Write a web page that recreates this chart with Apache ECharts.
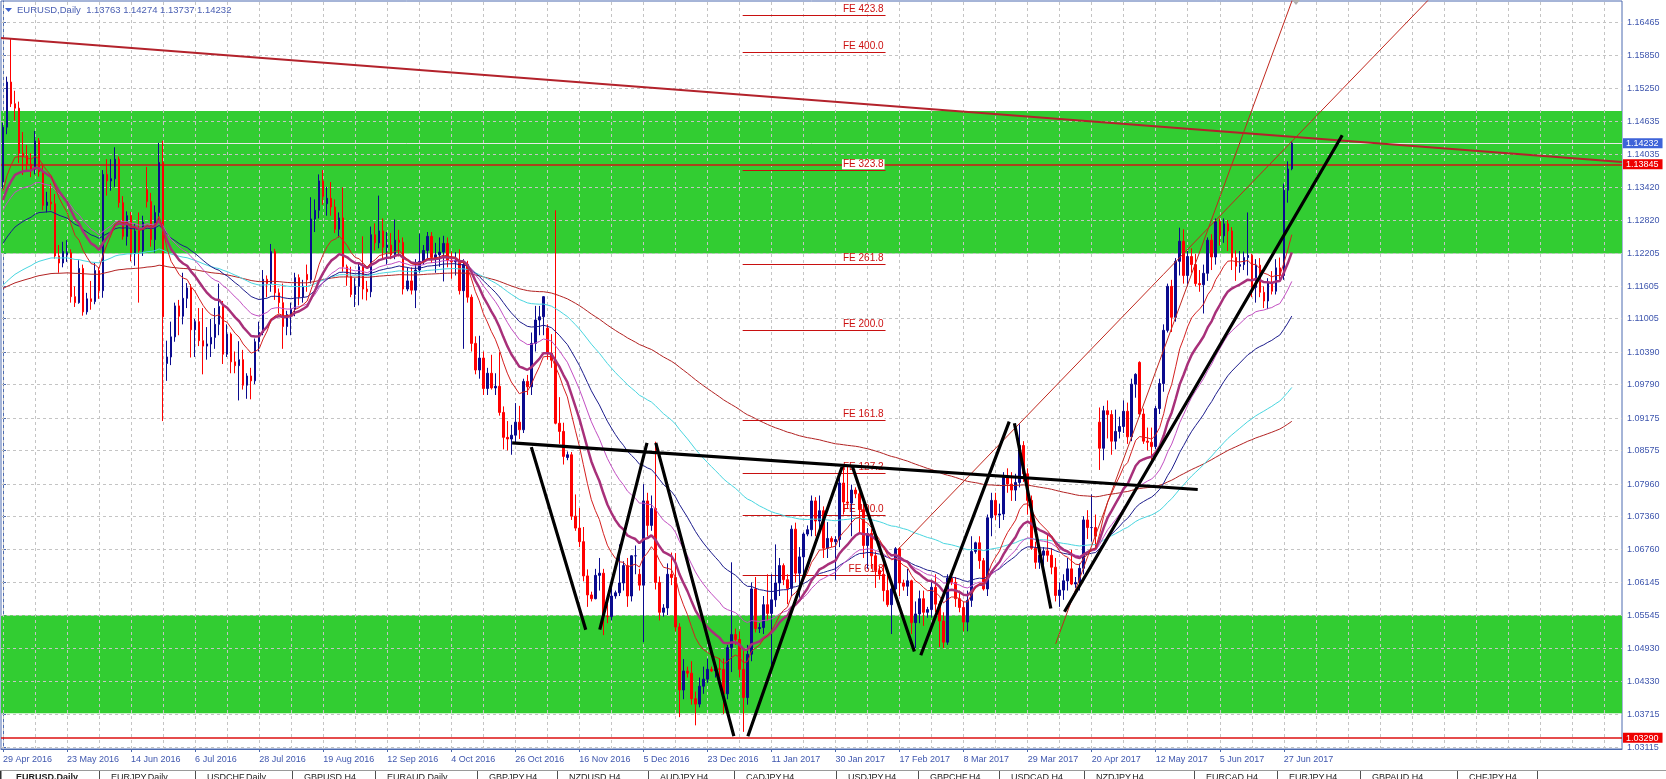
<!DOCTYPE html>
<html><head><meta charset="utf-8">
<script src="https://cdn.jsdelivr.net/npm/echarts@6/dist/echarts.min.js"></script>
<style>html,body{margin:0;padding:0;background:#fff;}#c{width:1666px;height:779px;}</style>
</head><body><div id="c"></div>
<script>
// ---------------- DATA ----------------
const SLOTS = 405; // bar slots on the time axis (323 bars + empty shift area)
const dateLabels = ['29 Apr 2016','23 May 2016','14 Jun 2016','6 Jul 2016','28 Jul 2016','19 Aug 2016','12 Sep 2016','4 Oct 2016','26 Oct 2016','16 Nov 2016','5 Dec 2016','23 Dec 2016','11 Jan 2017','30 Jan 2017','17 Feb 2017','8 Mar 2017','29 Mar 2017','20 Apr 2017','12 May 2017','5 Jun 2017','27 Jun 2017'];
const labelEvery = 16;
const yTicks = [1.16465,1.15850,1.15250,1.14635,1.14035,1.13420,1.12820,1.12205,1.11605,1.11005,1.10390,1.09790,1.09175,1.08575,1.07960,1.07360,1.06760,1.06145,1.05545,1.04930,1.04330,1.03715,1.03115];
const yMin = 1.03084, yMax = 1.16852;
// daily bars: [open, high, low, close]
const bars = [
[1.1352,1.1461,1.1340,1.1453],[1.1453,1.1546,1.1440,1.1536],[1.1536,1.1616,1.1490,1.1496],[1.1496,1.1520,1.1465,1.1488],[1.1488,1.1500,1.1387,1.1405],
[1.1405,1.1444,1.1365,1.1400],[1.1400,1.1420,1.1371,1.1385],[1.1385,1.1405,1.1361,1.1376],[1.1376,1.1446,1.1366,1.1428],[1.1428,1.1433,1.1362,1.1371],
[1.1371,1.1386,1.1300,1.1309],[1.1309,1.1334,1.1296,1.1315],[1.1315,1.1349,1.1300,1.1312],[1.1312,1.1330,1.1211,1.1216],[1.1216,1.1236,1.1185,1.1203],
[1.1203,1.1242,1.1195,1.1224],[1.1218,1.1245,1.1205,1.1222],[1.1222,1.1228,1.1130,1.1141],[1.1141,1.1160,1.1122,1.1130],[1.1130,1.1208,1.1128,1.1193],
[1.1193,1.1200,1.1106,1.1113],[1.1113,1.1148,1.1108,1.1137],[1.1137,1.1170,1.1117,1.1132],[1.1132,1.1203,1.1127,1.1189],[1.1189,1.1195,1.1137,1.1152],
[1.1152,1.1374,1.1139,1.1366],[1.1366,1.1394,1.1327,1.1354],[1.1354,1.1394,1.1336,1.1358],[1.1358,1.1416,1.1343,1.1394],[1.1394,1.1399,1.1305,1.1314],
[1.1314,1.1326,1.1246,1.1252],[1.1252,1.1298,1.1235,1.1290],[1.1290,1.1297,1.1206,1.1220],[1.1220,1.1276,1.1198,1.1262],[1.1262,1.1296,1.1130,1.1226],
[1.1226,1.1290,1.1216,1.1278],[1.1338,1.1380,1.1305,1.1316],[1.1316,1.1332,1.1233,1.1246],[1.1246,1.1309,1.1222,1.1296],[1.1296,1.1424,1.1280,1.1388],
[1.1388,1.1428,1.0912,1.1104],[1.1018,1.1060,1.0986,1.1030],[1.1030,1.1095,1.1015,1.1067],[1.1067,1.1130,1.1058,1.1124],[1.1124,1.1135,1.1070,1.1105],
[1.1105,1.1185,1.1090,1.1138],[1.1138,1.1166,1.1120,1.1157],[1.1157,1.1164,1.1029,1.1080],[1.1080,1.1100,1.1030,1.1095],[1.1095,1.1120,1.1050,1.1060],
[1.1060,1.1120,1.0998,1.1050],[1.1050,1.1085,1.1025,1.1054],[1.1054,1.1100,1.1030,1.1066],[1.1066,1.1120,1.1045,1.1090],[1.1090,1.1165,1.1070,1.1123],
[1.1123,1.1133,1.1017,1.1035],[1.1035,1.1090,1.1030,1.1072],[1.1072,1.1075,1.1000,1.1021],[1.1021,1.1040,1.1000,1.1014],[1.1014,1.1059,1.0950,1.1025],
[1.1025,1.1043,1.0970,1.0978],[1.0978,1.1000,1.0953,1.0995],[1.0995,1.1010,1.0952,1.0986],[1.0986,1.1064,1.0980,1.1058],[1.1058,1.1095,1.1040,1.1075],
[1.1075,1.1190,1.1070,1.1173],[1.1173,1.1180,1.1140,1.1165],[1.1165,1.1238,1.1150,1.1224],[1.1224,1.1229,1.1135,1.1148],[1.1148,1.1156,1.1110,1.1130],
[1.1130,1.1165,1.1045,1.1086],[1.1086,1.1115,1.1070,1.1108],[1.1108,1.1130,1.1070,1.1118],[1.1118,1.1185,1.1105,1.1176],[1.1176,1.1182,1.1125,1.1140],
[1.1140,1.1172,1.1130,1.1160],[1.1182,1.1200,1.1150,1.1172],[1.1172,1.1324,1.1165,1.1284],[1.1284,1.1320,1.1260,1.1300],[1.1300,1.1366,1.1285,1.1354],
[1.1354,1.1374,1.1310,1.1325],[1.1312,1.1343,1.1290,1.1322],[1.1322,1.1352,1.1290,1.1306],[1.1306,1.1320,1.1258,1.1265],[1.1265,1.1296,1.1250,1.1286],
[1.1286,1.1342,1.1187,1.1196],[1.1196,1.1200,1.1161,1.1178],[1.1178,1.1196,1.1140,1.1145],[1.1145,1.1175,1.1122,1.1160],[1.1160,1.1204,1.1125,1.1196],
[1.1196,1.1252,1.1136,1.1155],[1.1155,1.1170,1.1134,1.1150],[1.1150,1.1270,1.1140,1.1255],[1.1255,1.1276,1.1226,1.1240],[1.1240,1.1327,1.1230,1.1262],
[1.1262,1.1285,1.1210,1.1232],[1.1232,1.1260,1.1200,1.1236],[1.1236,1.1258,1.1210,1.1218],[1.1218,1.1283,1.1210,1.1245],[1.1245,1.1264,1.1215,1.1241],
[1.1241,1.1250,1.1145,1.1155],[1.1155,1.1195,1.1151,1.1170],[1.1170,1.1195,1.1145,1.1153],[1.1153,1.1210,1.1120,1.1190],[1.1190,1.1257,1.1185,1.1206],
[1.1206,1.1236,1.1200,1.1226],[1.1226,1.1260,1.1212,1.1252],[1.1252,1.1260,1.1203,1.1213],[1.1213,1.1240,1.1185,1.1218],[1.1218,1.1250,1.1196,1.1223],
[1.1223,1.1253,1.1169,1.1239],[1.1239,1.1250,1.1195,1.1208],[1.1208,1.1224,1.1174,1.1205],[1.1205,1.1223,1.1180,1.1208],[1.1208,1.1228,1.1145,1.1152],
[1.1152,1.1210,1.1045,1.1200],[1.1200,1.1207,1.1130,1.1140],[1.1140,1.1145,1.1040,1.1055],[1.1055,1.1068,1.0998,1.1006],[1.1006,1.1069,1.0990,1.1028],
[1.1028,1.1040,1.0960,1.0972],[1.0972,1.1010,1.0960,1.1000],[1.1000,1.1034,1.0970,1.0973],[1.0973,1.1000,1.0960,1.0976],[1.0976,1.1039,1.0922,1.0928],
[1.0928,1.0939,1.0860,1.0882],[1.0882,1.0912,1.0858,1.0879],[1.0879,1.0905,1.0850,1.0886],[1.0886,1.0945,1.0870,1.0910],[1.0910,1.0940,1.0879,1.0896],
[1.0896,1.0990,1.0890,1.0985],[1.0985,1.0997,1.0960,1.0975],[1.0975,1.1075,1.0960,1.1055],[1.1055,1.1124,1.1040,1.1098],[1.1098,1.1124,1.1070,1.1104],
[1.1104,1.1142,1.1070,1.1141],[1.1083,1.1090,1.1025,1.1037],[1.1037,1.1072,1.1010,1.1024],[1.1024,1.1300,1.0906,1.0908],[1.0908,1.0956,1.0870,1.0893],
[1.0893,1.0909,1.0832,1.0847],[1.0845,1.0856,1.0840,1.0850],[1.0850,1.0855,1.0730,1.0737],[1.0737,1.0777,1.0710,1.0715],[1.0715,1.0752,1.0680,1.0690],
[1.0690,1.0717,1.0617,1.0627],[1.0627,1.0639,1.0570,1.0592],[1.0592,1.0598,1.0580,1.0585],[1.0585,1.0640,1.0584,1.0628],[1.0628,1.0660,1.0600,1.0632],
[1.0632,1.0640,1.0518,1.0553],[1.0553,1.0580,1.0540,1.0552],[1.0552,1.0620,1.0545,1.0590],[1.0590,1.0600,1.0585,1.0596],[1.0596,1.0685,1.0590,1.0614],
[1.0614,1.0654,1.0600,1.0646],[1.0646,1.0660,1.0570,1.0590],[1.0590,1.0665,1.0580,1.0664],[1.0664,1.0683,1.0630,1.0664],[1.0630,1.0640,1.0600,1.0610],
[1.0610,1.0796,1.0505,1.0765],[1.0765,1.0780,1.0700,1.0720],[1.0720,1.0775,1.0710,1.0751],[1.0751,1.0874,1.0602,1.0615],[1.0615,1.0626,1.0545,1.0560],
[1.0560,1.0575,1.0552,1.0568],[1.0568,1.0650,1.0555,1.0630],[1.0630,1.0670,1.0610,1.0624],[1.0624,1.0669,1.0525,1.0533],[1.0533,1.0540,1.0367,1.0417],
[1.0417,1.0474,1.0400,1.0452],[1.0452,1.0460,1.0440,1.0448],[1.0448,1.0470,1.0390,1.0401],[1.0401,1.0414,1.0352,1.0391],[1.0391,1.0440,1.0385,1.0424],
[1.0424,1.0460,1.0410,1.0437],[1.0437,1.0475,1.0430,1.0455],[1.0455,1.0460,1.0450,1.0452],[1.0452,1.0466,1.0440,1.0456],[1.0456,1.0475,1.0440,1.0455],
[1.0455,1.0475,1.0373,1.0410],[1.0410,1.0500,1.0400,1.0495],[1.0495,1.0652,1.0450,1.0519],[1.0519,1.0530,1.0500,1.0510],[1.0510,1.0525,1.0440,1.0455],
[1.0455,1.0490,1.0340,1.0403],[1.0403,1.0500,1.0390,1.0483],[1.0483,1.0615,1.0470,1.0603],[1.0603,1.0625,1.0523,1.0530],[1.0530,1.0540,1.0522,1.0532],
[1.0532,1.0590,1.0520,1.0574],[1.0574,1.0630,1.0545,1.0558],[1.0558,1.0630,1.0453,1.0583],[1.0583,1.0685,1.0570,1.0614],[1.0614,1.0660,1.0590,1.0646],
[1.0646,1.0650,1.0610,1.0620],[1.0620,1.0630,1.0575,1.0604],[1.0604,1.0720,1.0590,1.0713],[1.0713,1.0725,1.0615,1.0632],[1.0632,1.0680,1.0587,1.0662],
[1.0662,1.0707,1.0620,1.0704],[1.0704,1.0720,1.0700,1.0712],[1.0712,1.0775,1.0700,1.0765],[1.0765,1.0772,1.0700,1.0728],[1.0728,1.0775,1.0710,1.0747],
[1.0747,1.0755,1.0660,1.0678],[1.0678,1.0726,1.0660,1.0696],[1.0696,1.0700,1.0680,1.0690],[1.0690,1.0700,1.0620,1.0694],[1.0694,1.0810,1.0680,1.0798],
[1.0798,1.0828,1.0740,1.0763],[1.0763,1.0829,1.0750,1.0761],[1.0761,1.0795,1.0700,1.0785],[1.0785,1.0790,1.0770,1.0778],[1.0778,1.0790,1.0705,1.0749],
[1.0749,1.0760,1.0660,1.0683],[1.0683,1.0715,1.0640,1.0705],[1.0705,1.0713,1.0640,1.0664],[1.0664,1.0672,1.0605,1.0637],[1.0637,1.0645,1.0620,1.0630],
[1.0630,1.0650,1.0580,1.0600],[1.0600,1.0635,1.0570,1.0574],[1.0574,1.0610,1.0520,1.0603],[1.0603,1.0680,1.0600,1.0677],[1.0677,1.0680,1.0590,1.0614],
[1.0614,1.0620,1.0600,1.0608],[1.0608,1.0640,1.0590,1.0618],[1.0618,1.0620,1.0520,1.0541],[1.0541,1.0580,1.0494,1.0557],[1.0557,1.0600,1.0540,1.0585],
[1.0585,1.0600,1.0535,1.0560],[1.0560,1.0570,1.0550,1.0565],[1.0565,1.0620,1.0550,1.0606],[1.0606,1.0630,1.0560,1.0575],[1.0575,1.0580,1.0496,1.0544],
[1.0544,1.0560,1.0494,1.0505],[1.0505,1.0630,1.0500,1.0623],[1.0623,1.0630,1.0610,1.0615],[1.0615,1.0625,1.0570,1.0585],[1.0585,1.0600,1.0560,1.0569],
[1.0569,1.0580,1.0525,1.0542],[1.0542,1.0600,1.0525,1.0582],[1.0582,1.0700,1.0570,1.0672],[1.0672,1.0690,1.0668,1.0688],[1.0688,1.0700,1.0640,1.0655],
[1.0655,1.0660,1.0600,1.0603],[1.0603,1.0740,1.0590,1.0734],[1.0734,1.0780,1.0700,1.0766],[1.0766,1.0780,1.0730,1.0739],[1.0739,1.0760,1.0715,1.0741],
[1.0741,1.0818,1.0730,1.0808],[1.0808,1.0825,1.0780,1.0796],[1.0796,1.0818,1.0765,1.0785],[1.0785,1.0815,1.0765,1.0799],[1.0799,1.0906,1.0790,1.0867],
[1.0867,1.0875,1.0800,1.0815],[1.0815,1.0825,1.0740,1.0766],[1.0766,1.0775,1.0675,1.0678],[1.0678,1.0690,1.0640,1.0652],[1.0652,1.0680,1.0640,1.0665],
[1.0665,1.0680,1.0640,1.0673],[1.0673,1.0705,1.0653,1.0665],[1.0665,1.0678,1.0630,1.0643],[1.0643,1.0660,1.0580,1.0591],[1.0591,1.0615,1.0570,1.0601],
[1.0601,1.0630,1.0583,1.0618],[1.0618,1.0660,1.0600,1.0640],[1.0640,1.0675,1.0610,1.0612],[1.0612,1.0625,1.0605,1.0615],[1.0615,1.0650,1.0600,1.0641],
[1.0641,1.0737,1.0630,1.0730],[1.0730,1.0748,1.0695,1.0716],[1.0716,1.0777,1.0690,1.0716],[1.0716,1.0740,1.0680,1.0700],[1.0910,1.0937,1.0822,1.0862],
[1.0862,1.0940,1.0840,1.0931],[1.0931,1.0950,1.0880,1.0924],[1.0924,1.0932,1.0850,1.0875],[1.0875,1.0933,1.0860,1.0893],[1.0893,1.0920,1.0880,1.0902],
[1.0902,1.0950,1.0890,1.0930],[1.0930,1.0946,1.0870,1.0883],[1.0883,1.0990,1.0875,1.0980],[1.0980,1.1000,1.0955,1.0998],[1.1020,1.1022,1.0920,1.0925],
[1.0925,1.0935,1.0870,1.0875],[1.0875,1.0900,1.0858,1.0873],[1.0873,1.0900,1.0838,1.0865],[1.0865,1.0940,1.0860,1.0935],[1.0935,1.0990,1.0925,1.0981],
[1.0981,1.1090,1.0966,1.1079],[1.1079,1.1165,1.1075,1.1160],[1.1160,1.1172,1.1076,1.1103],[1.1103,1.1212,1.1095,1.1206],[1.1206,1.1268,1.1180,1.1243],
[1.1243,1.1265,1.1165,1.1180],[1.1180,1.1225,1.1160,1.1215],[1.1215,1.1230,1.1185,1.1200],[1.1200,1.1220,1.1160,1.1165],[1.1165,1.1190,1.1150,1.1163],
[1.1163,1.1200,1.1110,1.1184],[1.1184,1.1250,1.1170,1.1245],[1.1245,1.1256,1.1190,1.1214],[1.1214,1.1285,1.1200,1.1279],[1.1279,1.1285,1.1235,1.1253],
[1.1253,1.1285,1.1240,1.1275],[1.1275,1.1282,1.1225,1.1262],[1.1262,1.1269,1.1190,1.1213],[1.1213,1.1226,1.1170,1.1197],[1.1197,1.1225,1.1185,1.1200],
[1.1200,1.1224,1.1190,1.1213],[1.1213,1.1296,1.1180,1.1217],[1.1217,1.1220,1.1140,1.1158],[1.1158,1.1210,1.1130,1.1199],[1.1199,1.1212,1.1140,1.1149],
[1.1149,1.1160,1.1120,1.1133],[1.1133,1.1175,1.1118,1.1166],[1.1166,1.1188,1.1145,1.1151],[1.1151,1.1210,1.1145,1.1194],[1.1194,1.1213,1.1170,1.1180],
[1.1180,1.1349,1.1172,1.1337],[1.1337,1.1390,1.1314,1.1376],[1.13763,1.14274,1.13737,1.14232]
];
// moving averages: EMA periods with starting values read at the first bar
const maPeriods = [200, 100, 50, 34, 21, 13];
const maSeeds   = [1.1156, 1.1162, 1.1239, 1.1300, 1.1319, 1.1335];
const maColors  = ['#b22222', '#48d6e0', '#1c1c8c', '#c24ec2', '#a8307a', '#d42020'];
const maWidths  = [1, 1, 1, 1, 2.5, 1];
// green supply / demand zones [top, bottom]
const zones = [[1.14825, 1.12205], [1.05545, 1.03740]];
// Fibonacci expansion levels
const feNames  = ['FE 423.8','FE 400.0','FE 323.8','FE 261.8','FE 200.0','FE 161.8','FE 127.2','FE 100.0','FE 61.8'];
const feLevels = [1.16594, 1.15907, 1.13735, 1.12000, 1.10798, 1.09127, 1.08158, 1.07385, 1.06287];
const feSpan = [184.8, 220.5];
// horizontal lines
const levelLine = 1.13845, bottomLine = 1.03290, bidLine = 1.14232;
const tagValues = [1.14232, 1.13845, 1.03290];
const tagColors = ['#3e63d8', '#ee0000', '#ee0000'];
// trend lines [barIndex, price]
const longTrend = [[-0.5, 1.1617], [404.5, 1.1389]];
const patternSegs = [
  [[132.0,1.0864],[145.6,1.0528]], [[149.1,1.0528],[160.9,1.0872]], [[163.1,1.0872],[182.6,1.0332]],
  [[186.1,1.0332],[209.7,1.0829]], [[212.2,1.0829],[227.7,1.0488]], [[229.3,1.0481],[251.4,1.0911]],
  [[252.7,1.0908],[261.8,1.0567]], [[265.2,1.0561],[334.6,1.1438]], [[127.2,1.0872],[298.5,1.0786]]
];
const rayShallow = [[223.5, 1.0675], [370, 1.1793]];
const raySteep   = [[263, 1.0502], [330, 1.1845]];
const header = 'EURUSD,Daily  1.13763 1.14274 1.13737 1.14232';
const tabNames = ['EURUSD,Daily','EURJPY,Daily','USDCHF,Daily','GBPUSD,H4','EURAUD,Daily','GBPJPY,H4','NZDUSD,H4','AUDJPY,H4','CADJPY,H4','USDJPY,H4','GBPCHF,H4','USDCAD,H4','NZDJPY,H4','EURCAD,H4','EURJPY,H4','GBPAUD,H4','CHFJPY,H4'];
const tabEdges = [0,99,195,292,375,477,557,648,734,836,918,999,1084,1194,1277,1360,1457,1537,1623];

// ---------------- BUILD ----------------
const FONT = 'Liberation Sans, Arial, sans-serif';
const closes = bars.map(b => b[3]);
function ema(period, seed) {
  const a = 2 / (period + 1); let e = seed; const out = [];
  closes.forEach((c, i) => { if (i > 0) e = e + a * (c - e); out.push(+e.toFixed(5)); });
  return out;
}
const cats = Array.from({length: SLOTS}, (_, i) => String(i));
const candleData = bars.map(b => [b[0], b[3], b[2], b[1]]);
const vGrid = []; for (let k = 0; k < SLOTS; k += 8) vGrid.push({xAxis: k});

const series = [];
// zones
series.push({type:'line', xAxisIndex:1, yAxisIndex:0, data:[], silent:true,
  markArea:{silent:true, z:1, itemStyle:{color:'#32cd32'}, data: zones.map(z => [{yAxis:z[0]},{yAxis:z[1]}])}});
// grid lines
series.push({type:'line', xAxisIndex:1, yAxisIndex:0, data:[], silent:true,
  markLine:{silent:true, z:2, symbol:'none', precision:6, label:{show:false}, animation:false,
    lineStyle:{color:'#c4c4c4', width:1, type:[3,3]},
    data: yTicks.map(v => ({yAxis:v})).concat(vGrid)}});
// horizontal level lines
series.push({type:'line', xAxisIndex:1, yAxisIndex:0, data:[], silent:true,
  markLine:{silent:true, z:3, symbol:'none', precision:6, label:{show:false},
    data:[{yAxis:bidLine, lineStyle:{color:'#e8e8e8', width:1, type:'solid'}},
          {yAxis:levelLine, lineStyle:{color:'#a8441c', width:2, type:'solid'}},
          {yAxis:bottomLine, lineStyle:{color:'#dd1111', width:1.5, type:'solid'}}]}});
// FE levels
series.push({type:'line', xAxisIndex:1, yAxisIndex:0, data:[], silent:true,
  markLine:{silent:true, z:3, symbol:'none', precision:6,
    lineStyle:{color:'#c81010', width:1, type:'solid'},
    label:{show:true, position:'insideEndTop', formatter:'{b}', color:'#cc1010', fontSize:10, fontFamily:FONT,
      backgroundColor:'#ffffff', padding:[0,1,0,1], distance:1},
    data: feLevels.map((p, k) => [{coord:[feSpan[0], p], name:feNames[k]}, {coord:[feSpan[1], p]}])}});
// candles
series.push({type:'candlestick', name:'EURUSD', z:4, data:candleData, barWidth:2,
  itemStyle:{color:'#0b0b8e', color0:'#ff0000', borderColor:'#0b0b8e', borderColor0:'#ff0000', borderWidth:1}});
// moving averages
maPeriods.forEach((p, k) => series.push({type:'line', z:5, data: ema(p, maSeeds[k]), showSymbol:false, symbol:'none',
  lineStyle:{color:maColors[k], width:maWidths[k]}, silent:true}));
// long descending trend line
series.push({type:'line', xAxisIndex:1, z:6, data:longTrend, showSymbol:false, symbol:'none', silent:true,
  lineStyle:{color:'#b3222b', width:2}});
// rays
[rayShallow, raySteep].forEach(r => series.push({type:'line', xAxisIndex:1, z:6, data:r, showSymbol:false, symbol:'none', silent:true,
  lineStyle:{color:'#c0281e', width:1}}));
// black pattern lines
const patData = []; patternSegs.forEach(s => { patData.push(s[0], s[1], null); });
series.push({type:'line', xAxisIndex:1, z:7, data:patData, connectNulls:false, showSymbol:false, symbol:'none', silent:true,
  lineStyle:{color:'#000000', width:3.2}});

// graphics: header + tab row
const graphics = [
  {type:'polygon', shape:{points:[[5,8],[12,8],[8.5,12]]}, style:{fill:'#3a5fcd'}, z:50},
  {type:'text', left:17, top:5, z:50, style:{text:header, fill:'#4b60b3', font:'9.5px ' + FONT}},
  {type:'polygon', shape:{points:[[1292,0],[1300,0],[1296,5]]}, style:{fill:'#b0b0b0'}, z:50},
  {type:'line', shape:{x1:0, y1:770.5, x2:1666, y2:770.5}, style:{stroke:'#9a9a9a', lineWidth:1}, z:50}
];
tabNames.forEach((t, k) => {
  const x0 = tabEdges[k], x1 = tabEdges[k+1];
  graphics.push({type:'line', shape:{x1:x1+0.5, y1:771, x2:x1+0.5, y2:779}, style:{stroke:'#505050', lineWidth:1}, z:50});
  graphics.push({type:'text', left:x0 + (k === 0 ? 16 : 12), top:773, z:50,
    style:{text:t, fill:'#202020', font:(k === 0 ? 'bold ' : '') + '9px ' + FONT}});
});
graphics.push({type:'line', shape:{x1:0.5, y1:771, x2:0.5, y2:779}, style:{stroke:'#303030', lineWidth:2}, z:50});

const option = {
  animation:false,
  backgroundColor:'#ffffff',
  grid:{left:1, right:44, top:1, bottom:30, show:true, borderColor:'#4d6bb0', borderWidth:1, backgroundColor:'transparent'},
  xAxis:[
    {type:'category', data:cats, boundaryGap:true,
      axisLine:{show:true, lineStyle:{color:'#4d6bb0'}},
      axisTick:{show:true, alignWithLabel:true, length:3, interval:(i) => i % labelEvery === 0 && i / labelEvery < dateLabels.length, lineStyle:{color:'#4d6bb0'}},
      axisLabel:{show:true, interval:(i) => i % labelEvery === 0 && i / labelEvery < dateLabels.length,
        formatter:(v, i) => dateLabels[Math.round(Number(v) / labelEvery)] || '', align:'left', margin:6,
        color:'#3e56ae', fontSize:9, fontFamily:FONT},
      splitLine:{show:false}},
    {type:'value', min:-0.5, max:SLOTS - 0.5, show:false, splitLine:{show:false}}
  ],
  yAxis:[
    {type:'value', position:'right', min:yMin, max:yMax, scale:true,
      axisLine:{show:true, lineStyle:{color:'#4d6bb0'}},
      axisTick:{show:true, length:3, customValues:yTicks, lineStyle:{color:'#4d6bb0'}},
      axisLabel:{show:true, customValues:yTicks, formatter:(v) => Number(v).toFixed(5), margin:5,
        color:'#3e56ae', fontSize:9, fontFamily:FONT},
      splitLine:{show:false}},
    {type:'value', position:'right', min:yMin, max:yMax, scale:true,
      axisLine:{show:false}, axisTick:{show:false}, splitLine:{show:false},
      axisLabel:{show:true, customValues:tagValues, margin:1,
        formatter:(v) => { const k = tagValues.findIndex(t => Math.abs(t - v) < 1e-7); return '{t' + k + '|' + Number(v).toFixed(5) + '}'; },
        rich: Object.fromEntries(tagColors.map((c, k) => ['t' + k, {backgroundColor:c, color:'#ffffff', padding:[1,4,0,3], fontSize:9, fontFamily:FONT, lineHeight:10}]))}}
  ],
  graphic:graphics,
  series:series
};
const chart = echarts.init(document.getElementById('c'), null, {renderer:'canvas'});
chart.setOption(option);
</script></body></html>
